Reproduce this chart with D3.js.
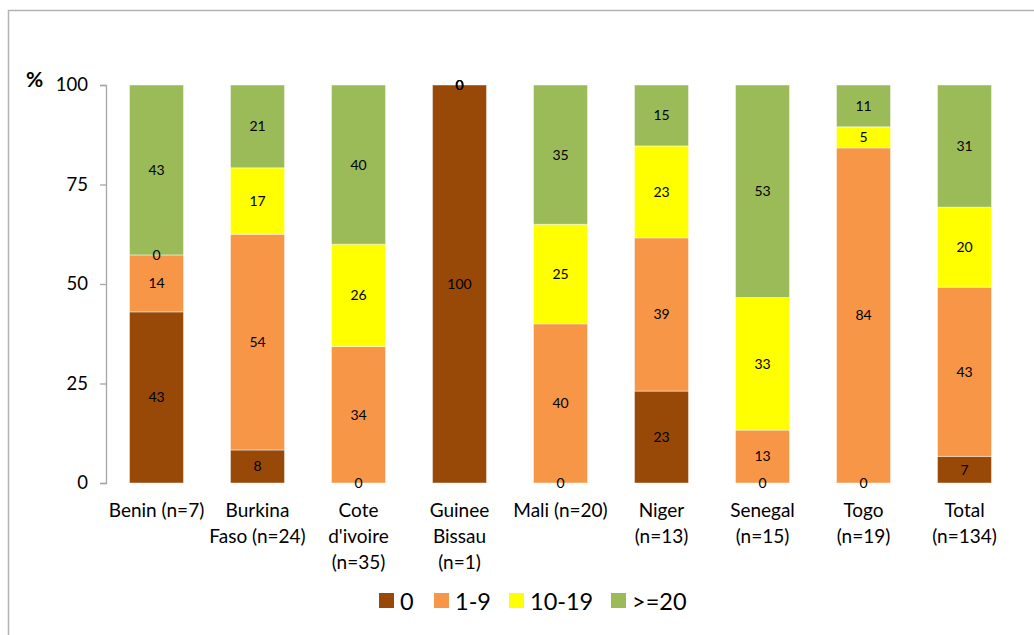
<!DOCTYPE html>
<html>
<head>
<meta charset="utf-8">
<script src="https://cdn.jsdelivr.net/npm/d3@7/dist/d3.min.js"></script>
<style>
  html, body { margin: 0; padding: 0; background: #fff; }
  svg { display: block; font-family: Lato, "Open Sans", sans-serif; }
</style>
</head>
<body>
<svg id="chart" width="1034" height="635"></svg>
<script>
// Countries (label lines) and share of respondents per group, in %
const categories = [
  ["Benin (n=7)"],
  ["Burkina", "Faso (n=24)"],
  ["Cote", "d'ivoire", "(n=35)"],
  ["Guinee", "Bissau", "(n=1)"],
  ["Mali (n=20)"],
  ["Niger", "(n=13)"],
  ["Senegal", "(n=15)"],
  ["Togo", "(n=19)"],
  ["Total", "(n=134)"]
];
const seriesNames = ["0", "1-9", "10-19", ">=20"];
const s0    = [43, 8.3, 0, 100, 0, 23.1, 0, 0, 6.7];
const s1to9 = [14.3, 54.2, 34.3, 0, 40, 38.5, 13.3, 84.2, 42.5];
const s10   = [0, 16.7, 25.7, 0, 25, 23.1, 33.3, 5.3, 20.1];
const s20   = [42.7, 20.8, 40, 0, 35, 15.3, 53.4, 10.5, 30.7];
const seriesValues = [s0, s1to9, s10, s20];
const colors = ["#984807", "#F79646", "#FFFF00", "#9BBB59"];
const yTicks = [0, 25, 50, 75, 100];

const svg = d3.select("#chart");

// outer frame
svg.append("rect")
  .attr("x", 8.5).attr("y", 10.5)
  .attr("width", 1040).attr("height", 640)
  .attr("fill", "none").attr("stroke", "#b3b3b3").attr("stroke-width", 1.5);

const x = d3.scaleBand()
  .domain(d3.range(categories.length))
  .range([106, 1015])
  .paddingInner(0.465)
  .paddingOuter(0.2325);

const y = d3.scaleLinear().domain([0, 100]).range([483, 85]);

// y axis
const yAxis = d3.axisLeft(y).tickValues(yTicks).tickSize(6).tickPadding(12);
const gy = svg.append("g").attr("transform", "translate(106,0)").call(yAxis);
gy.select(".domain").attr("stroke", "#a6a6a6").attr("stroke-width", 1.3);
gy.selectAll(".tick line").attr("stroke", "#a6a6a6").attr("stroke-width", 1.3);
gy.selectAll(".tick text").attr("font-size", 18.5).attr("fill", "#000")
  .attr("font-family", "Lato, sans-serif");

svg.append("text")
  .attr("x", 26).attr("y", 87)
  .attr("font-size", 21).attr("font-weight", "bold")
  .text("%");

// stacked segments
const rows = categories.map((c, i) => {
  const r = { i };
  seriesNames.forEach((k, j) => r[k] = seriesValues[j][i]);
  return r;
});
const stack = d3.stack().keys(seriesNames)(rows);

const layers = svg.append("g").selectAll("g")
  .data(stack).join("g")
  .attr("fill", (d, j) => colors[j]);

layers.selectAll("rect")
  .data(d => d).join("rect")
  .attr("x", d => x(d.data.i))
  .attr("width", x.bandwidth())
  .attr("y", d => y(d[1]))
  .attr("height", d => y(d[0]) - y(d[1]))
  .attr("stroke", "rgba(255,255,255,0.45)")
  .attr("stroke-width", 1);

// value labels in the middle of each segment
const fmt = d3.format(".0f");
const labels = svg.append("g").attr("font-size", 14).attr("text-anchor", "middle");
stack.forEach((layer, j) => {
  labels.selectAll(null)
    .data(layer).join("text")
    .attr("x", d => x(d.data.i) + x.bandwidth() / 2)
    .attr("y", d => y((d[0] + d[1]) / 2))
    .attr("dy", "0.35em")
    .attr("fill", "#000")
    .text(d => fmt(d[1] - d[0]));
});

// category labels
const xl = svg.append("g").attr("font-size", 19).attr("text-anchor", "middle");
categories.forEach((lines, i) => {
  const t = xl.append("text")
    .attr("x", x(i) + x.bandwidth() / 2)
    .attr("y", 517);
  lines.forEach((ln, k) => {
    t.append("tspan")
      .attr("x", x(i) + x.bandwidth() / 2)
      .attr("dy", k === 0 ? 0 : 26)
      .text(ln);
  });
});

// legend
const legendX = [379, 434, 509, 611];
const lg = svg.append("g");
seriesNames.forEach((name, j) => {
  lg.append("rect")
    .attr("x", legendX[j]).attr("y", 593)
    .attr("width", 15).attr("height", 15)
    .attr("fill", colors[j]);
  lg.append("text")
    .attr("x", legendX[j] + 21).attr("y", 610)
    .attr("font-size", 23.5)
    .text(name);
});
</script>
</body>
</html>
